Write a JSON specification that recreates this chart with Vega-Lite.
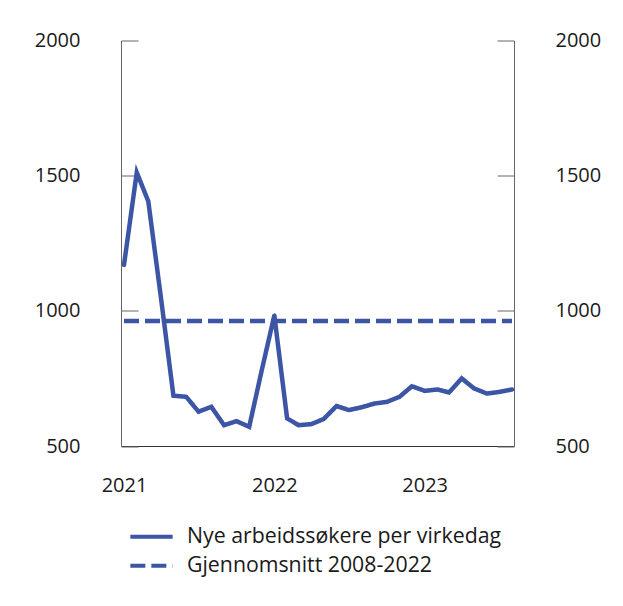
{
  "$schema": "https://vega.github.io/schema/vega-lite/v6.json",
  "width": 393,
  "height": 405.5,
  "autosize": {"type": "none"},
  "padding": {"left": 121, "top": 40.5, "right": 109, "bottom": 160},
  "background": "white",
  "config": {
    "view": {"stroke": null},
    "font": "Open Sans",
    "axis": {"labelFont": "Open Sans", "labelFontSize": 20, "labelColor": "#1a1a1a", "grid": false, "title": null},
    "legend": {"labelFont": "Open Sans", "labelFontSize": 21.3, "labelColor": "#1a1a1a", "labelLimit": 500}
  },
  "data": {
    "values": [
      {"date": "2021-01-01", "value": 1170, "series": "Nye arbeidssøkere per virkedag"},
      {"date": "2021-02-01", "value": 1512, "series": "Nye arbeidssøkere per virkedag"},
      {"date": "2021-03-01", "value": 1405, "series": "Nye arbeidssøkere per virkedag"},
      {"date": "2021-04-01", "value": 1045, "series": "Nye arbeidssøkere per virkedag"},
      {"date": "2021-05-01", "value": 686, "series": "Nye arbeidssøkere per virkedag"},
      {"date": "2021-06-01", "value": 682, "series": "Nye arbeidssøkere per virkedag"},
      {"date": "2021-07-01", "value": 627, "series": "Nye arbeidssøkere per virkedag"},
      {"date": "2021-08-01", "value": 645, "series": "Nye arbeidssøkere per virkedag"},
      {"date": "2021-09-01", "value": 577, "series": "Nye arbeidssøkere per virkedag"},
      {"date": "2021-10-01", "value": 592, "series": "Nye arbeidssøkere per virkedag"},
      {"date": "2021-11-01", "value": 571, "series": "Nye arbeidssøkere per virkedag"},
      {"date": "2021-12-01", "value": 777, "series": "Nye arbeidssøkere per virkedag"},
      {"date": "2022-01-01", "value": 983, "series": "Nye arbeidssøkere per virkedag"},
      {"date": "2022-02-01", "value": 602, "series": "Nye arbeidssøkere per virkedag"},
      {"date": "2022-03-01", "value": 577, "series": "Nye arbeidssøkere per virkedag"},
      {"date": "2022-04-01", "value": 581, "series": "Nye arbeidssøkere per virkedag"},
      {"date": "2022-05-01", "value": 600, "series": "Nye arbeidssøkere per virkedag"},
      {"date": "2022-06-01", "value": 648, "series": "Nye arbeidssøkere per virkedag"},
      {"date": "2022-07-01", "value": 633, "series": "Nye arbeidssøkere per virkedag"},
      {"date": "2022-08-01", "value": 643, "series": "Nye arbeidssøkere per virkedag"},
      {"date": "2022-09-01", "value": 657, "series": "Nye arbeidssøkere per virkedag"},
      {"date": "2022-10-01", "value": 663, "series": "Nye arbeidssøkere per virkedag"},
      {"date": "2022-11-01", "value": 682, "series": "Nye arbeidssøkere per virkedag"},
      {"date": "2022-12-01", "value": 721, "series": "Nye arbeidssøkere per virkedag"},
      {"date": "2023-01-01", "value": 704, "series": "Nye arbeidssøkere per virkedag"},
      {"date": "2023-02-01", "value": 709, "series": "Nye arbeidssøkere per virkedag"},
      {"date": "2023-03-01", "value": 698, "series": "Nye arbeidssøkere per virkedag"},
      {"date": "2023-04-01", "value": 750, "series": "Nye arbeidssøkere per virkedag"},
      {"date": "2023-05-01", "value": 713, "series": "Nye arbeidssøkere per virkedag"},
      {"date": "2023-06-01", "value": 694, "series": "Nye arbeidssøkere per virkedag"},
      {"date": "2023-07-01", "value": 700, "series": "Nye arbeidssøkere per virkedag"},
      {"date": "2023-08-01", "value": 709, "series": "Nye arbeidssøkere per virkedag"},
      {"date": "2021-01-01", "value": 962, "series": "Gjennomsnitt 2008-2022"},
      {"date": "2023-08-01", "value": 962, "series": "Gjennomsnitt 2008-2022"}
    ]
  },
  "encoding": {
    "x": {
      "field": "date",
      "type": "temporal",
      "scale": {
        "type": "utc",
        "domain": [
          {"year": 2020, "month": 12, "date": 24, "hours": 17, "utc": true},
          {"year": 2023, "month": 8, "date": 5, "hours": 22, "utc": true}
        ]
      },
      "axis": {
        "values": [
          {"year": 2021, "month": 1, "date": 1, "utc": true},
          {"year": 2022, "month": 1, "date": 1, "utc": true},
          {"year": 2023, "month": 1, "date": 1, "utc": true}
        ],
        "format": "%Y",
        "formatType": "utc",
        "ticks": false,
        "domain": true,
        "domainColor": "#333333",
        "domainWidth": 1,
        "labelPadding": 29,
        "labelFlush": false,
        "labelOverlap": false
      }
    },
    "y": {
      "field": "value",
      "type": "quantitative",
      "scale": {"domain": [500, 2000], "nice": false, "zero": false}
    },
    "strokeDash": {
      "field": "series",
      "type": "nominal",
      "scale": {
        "domain": ["Nye arbeidssøkere per virkedag", "Gjennomsnitt 2008-2022"],
        "range": [[1, 0], [15, 6]]
      },
      "legend": {
        "title": null,
        "orient": "none",
        "legendX": 7,
        "legendY": 481.7,
        "symbolType": "stroke",
        "symbolSize": 1790,
        "symbolStrokeWidth": 4,
        "symbolStrokeColor": "#3c55a5",
        "labelOffset": 12,
        "clipHeight": 29,
        "rowPadding": 0
      }
    }
  },
  "layer": [
    {
      "transform": [{"filter": "datum.series === 'Nye arbeidssøkere per virkedag'"}],
      "mark": {"type": "line", "color": "#3c55a5", "strokeWidth": 4.5, "strokeJoin": "miter", "strokeCap": "round"},
      "encoding": {
        "y": {
          "field": "value",
          "type": "quantitative",
          "axis": {
            "orient": "left",
            "values": [500, 1000, 1500, 2000],
            "format": "d",
            "domainColor": "#666666",
            "tickColor": "#666666",
            "tickSize": -17,
            "labelPadding": 58
          }
        }
      }
    },
    {
      "transform": [{"filter": "datum.series === 'Gjennomsnitt 2008-2022'"}],
      "mark": {"type": "line", "color": "#3c55a5", "strokeWidth": 4.5},
      "encoding": {
        "y": {
          "field": "value",
          "type": "quantitative",
          "axis": {
            "orient": "right",
            "values": [500, 1000, 1500, 2000],
            "format": "d",
            "domainColor": "#666666",
            "tickColor": "#666666",
            "tickSize": -17,
            "labelPadding": 58
          }
        }
      }
    }
  ],
  "resolve": {"scale": {"y": "shared"}, "axis": {"y": "independent"}}
}
